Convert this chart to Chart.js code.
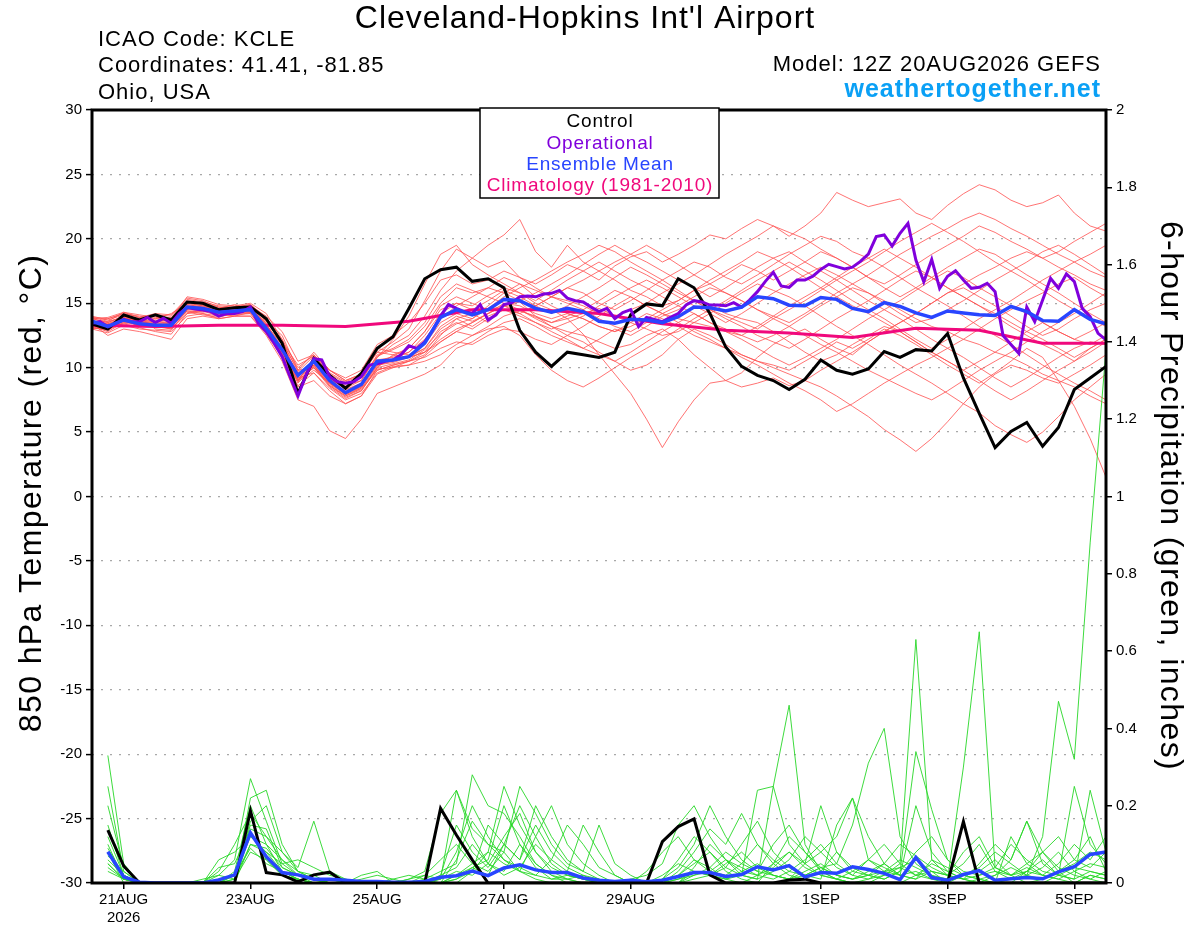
<!DOCTYPE html>
<html>
<head>
<meta charset="utf-8">
<script src="https://cdn.jsdelivr.net/npm/chart.js@4.4.1/dist/chart.umd.min.js"></script>
<style>
  html, body { margin: 0; padding: 0; background: #fff; }
  canvas { display: block; }
</style>
</head>
<body>
<canvas id="gefsChart" width="1200" height="927"></canvas>
<script>
// forecast hour ticks (0 = 12Z 20AUG2026)
const tickHours = [12, 60, 108, 156, 204, 276, 324, 372];
const tickLabels = [['21AUG', '2026'], '23AUG', '25AUG', '27AUG', '29AUG', '1SEP', '3SEP', '5SEP'];

// 850 hPa temperature, 6-hourly
const controlT = [
  13.4, 13.0, 14.1, 13.7, 14.1, 13.7, 15.1, 15.0, 14.5, 14.65,
  14.7, 13.8, 11.9, 8.0, 10.7, 9.4, 8.4, 9.55, 11.5, 12.4,
  14.6, 16.9, 17.6, 17.8, 16.7, 16.9, 16.2, 12.9, 11.2, 10.1,
  11.2, 11.0, 10.8, 11.2, 14.1, 14.95, 14.8, 16.9, 16.2, 14.2,
  11.6, 10.1, 9.4, 9.0, 8.3, 9.1, 10.6, 9.8, 9.5, 9.9,
  11.25, 10.8, 11.4, 11.3, 12.65, 9.2, 6.45, 3.8, 5.05, 5.75,
  3.9, 5.35, 8.3, 9.2, 10.1
];
const meanT = [
  13.6, 13.2, 13.7, 13.4, 13.3, 13.3, 14.7, 14.6, 14.3, 14.4,
  14.5, 13.05, 11.4, 9.4, 10.5, 9.0, 8.05, 8.7, 10.5, 10.6,
  10.85, 11.9, 13.9, 14.5, 14.1, 14.5, 15.3, 15.2, 14.6, 14.3,
  14.6, 14.35, 13.6, 13.45, 13.75, 13.7, 13.5, 13.95, 14.7, 14.65,
  14.4, 14.7, 15.5, 15.35, 14.85, 14.8, 15.45, 15.3, 14.6, 14.35,
  15.05, 14.75, 14.25, 13.9, 14.4, 14.25, 14.1, 14.05, 14.75, 14.35,
  13.65, 13.6, 14.5, 13.75, 13.4
];
// operational run, 3-hourly
const operT = [
  13.44, 13.57, 13.18, 13.44, 13.75, 13.57, 13.57, 13.9, 13.5, 13.83,
  13.44, 14.2, 14.66, 14.55, 14.48, 14.35, 14.0, 14.2, 14.2, 14.35,
  14.7, 13.44, 12.8, 11.9, 10.85, 9.3, 7.8, 9.4, 10.7, 10.6,
  9.3, 8.9, 8.8, 8.9, 9.3, 10.2, 10.3, 10.5, 10.6, 11.0,
  11.7, 11.5, 12.0, 12.9, 14.0, 14.9, 14.6, 14.35, 14.2, 14.9,
  13.7, 14.1, 14.9, 15.05, 15.5, 15.56, 15.5, 15.72, 15.77, 16.0,
  15.4, 15.2, 15.1, 14.7, 14.35, 14.6, 13.8, 14.27, 14.5, 13.2,
  13.9, 13.75, 13.57, 13.9, 14.2, 14.86, 15.2, 15.1, 14.86, 14.86,
  14.8, 15.05, 14.7, 15.25, 15.9, 16.7, 17.4, 16.34, 16.23, 16.8,
  16.8, 17.1, 17.63, 18.02, 17.84, 17.66, 17.8, 18.25, 18.82, 20.17,
  20.3, 19.44, 20.43, 21.2, 18.36, 16.67, 18.4, 16.16, 17.1, 17.53,
  16.8, 16.16, 16.24, 16.55, 15.9, 12.5, 11.8, 11.1, 14.7, 13.57,
  15.25, 16.93, 16.16, 17.27, 16.68, 14.6, 13.96, 12.66, 12.15
];
// climatology, daily
const climT = [13.3, 13.2, 13.3, 13.3, 13.2, 13.6, 14.5, 14.5, 14.2, 13.4, 12.9, 12.7, 12.35, 13.05, 12.9, 11.9, 11.9];

// ensemble members, 6-hourly
const membersT = [
  [13.2, 12.8, 13.5, 13.9, 13.0, 12.9, 14.5, 14.9, 14.2, 14.0,
   14.3, 13.5, 12.0, 10.2, 10.9, 9.8, 9.0, 9.5, 11.2, 12.0,
   13.0, 15.2, 17.5, 19.2, 18.5, 17.8, 18.3, 17.0, 16.5, 17.2,
   18.0, 17.5, 16.8, 17.9, 18.6, 19.0, 18.2, 18.8, 19.5, 20.3,
   20.0, 20.8, 21.5, 21.0, 20.2, 21.0, 22.0, 23.6, 23.0, 22.5,
   22.8, 23.1, 22.0, 21.5, 22.6, 23.5, 24.2, 23.8, 23.0, 22.5,
   22.8, 23.4, 22.0, 21.0, 20.6],
  [13.8, 13.5, 14.0, 13.6, 13.8, 14.2, 15.0, 14.8, 14.6, 14.9,
   14.6, 13.2, 11.0, 8.5, 9.0, 7.8, 7.2, 7.8, 9.5, 10.0,
   10.5, 11.0, 12.5, 13.8, 14.2, 13.5, 14.8, 15.1, 14.0, 13.2,
   12.5, 12.0, 11.2, 10.5, 9.8, 10.2, 11.0, 12.2, 13.0, 12.5,
   11.8, 11.0, 10.5, 10.2, 9.8, 10.5, 11.2, 12.0, 11.5, 12.2,
   13.0, 12.5, 11.8, 11.0, 10.2, 9.5, 8.8, 9.6, 10.5, 11.5,
   10.8, 9.0, 7.0, 4.5, 1.5],
  [13.0, 13.2, 13.4, 13.1, 12.8, 12.6, 14.2, 14.4, 14.0, 14.2,
   14.4, 13.6, 12.5, 9.8, 10.0, 8.5, 7.6, 8.2, 10.0, 11.0,
   11.5, 12.8, 14.5, 15.0, 14.8, 15.6, 16.2, 15.8, 15.0, 14.5,
   13.8, 12.6, 11.0, 9.5, 8.0, 6.0, 3.8, 5.8, 7.5, 8.8,
   9.0, 9.6, 10.8, 11.8, 12.5, 13.0, 12.2, 11.5, 11.0, 12.0,
   12.8, 13.5, 14.2, 15.0, 15.8, 16.2, 15.5, 14.8, 14.0, 13.2,
   12.5, 13.0, 13.8, 14.5, 15.0],
  [13.5, 13.8, 14.2, 13.9, 14.0, 13.6, 15.2, 15.0, 14.7, 14.5,
   14.8, 14.0, 12.8, 10.5, 11.0, 9.5, 8.8, 9.2, 10.8, 11.8,
   12.5, 14.0, 16.0, 17.5, 18.5, 19.5, 20.3, 21.5, 19.0, 17.8,
   19.5, 18.2, 17.5, 16.8, 16.0, 15.5, 14.8, 15.2, 16.0, 16.5,
   17.2, 18.0, 17.5, 16.8, 17.5, 18.2, 19.0, 18.5, 17.8, 17.0,
   16.5, 17.2, 18.0, 18.8, 19.5, 20.2, 21.0, 20.5, 19.8, 19.2,
   18.5, 19.0, 19.8, 20.5, 21.2],
  [13.4, 12.5, 13.0, 12.8, 12.5, 12.2, 13.8, 14.0, 13.8, 14.0,
   14.0, 12.5, 10.5, 7.5, 7.0, 5.1, 4.5, 6.0, 8.0, 8.5,
   9.0, 9.5, 10.2, 11.5, 12.0, 12.8, 13.5, 13.8, 13.2, 12.5,
   12.0, 11.5, 12.2, 13.0, 12.5, 13.2, 14.0, 14.5, 15.2, 14.8,
   14.2, 13.8, 13.5, 12.8, 12.0, 11.2, 10.5, 11.0, 11.8, 12.5,
   13.2, 12.8, 12.0, 11.2, 10.5, 9.8, 10.5, 11.2, 12.0, 12.8,
   13.5, 12.8, 12.2, 11.8, 12.5],
  [13.9, 13.6, 14.3, 14.1, 13.9, 13.8, 15.5, 15.3, 14.9, 14.8,
   15.0, 14.2, 12.2, 9.0, 10.8, 9.2, 8.0, 8.6, 10.2, 10.5,
   10.8, 11.5, 13.0, 13.8, 13.2, 14.0, 14.5, 14.2, 14.8, 15.5,
   16.2, 15.8, 15.0, 14.5, 15.2, 16.0, 16.8, 17.5, 18.2, 17.8,
   17.0, 16.5, 17.2, 18.0, 18.8, 19.5, 20.2, 19.8, 19.0, 18.5,
   17.8, 17.0, 16.2, 15.5, 14.8, 14.0, 13.2, 12.5, 11.8, 11.0,
   10.2, 9.5, 8.8, 8.2, 7.5],
  [13.1, 12.9, 13.6, 13.3, 13.2, 13.0, 14.3, 14.1, 13.9, 14.3,
   14.2, 12.8, 11.0, 8.8, 10.2, 8.6, 7.8, 8.3, 9.8, 10.2,
   10.5, 10.8, 11.5, 12.0, 11.8, 12.5, 13.0, 12.8, 12.2, 11.8,
   12.5, 13.2, 14.0, 14.8, 15.5, 14.8, 14.2, 13.5, 12.8, 12.2,
   11.5, 10.8, 10.2, 9.5, 8.8, 8.2, 7.5, 6.6, 7.2, 8.0,
   8.8, 9.5, 10.2, 10.8, 11.5, 12.2, 13.0, 13.8, 14.5, 15.2,
   15.8, 16.5, 17.0, 16.2, 15.5],
  [13.7, 13.3, 13.9, 13.5, 13.6, 13.7, 14.9, 14.7, 14.4, 14.6,
   14.7, 13.4, 11.6, 9.6, 10.4, 9.2, 8.3, 8.8, 10.6, 10.8,
   11.2, 12.5, 14.2, 15.0, 14.5, 15.2, 16.0, 15.5, 14.8, 14.2,
   14.8, 15.5, 16.2, 17.0, 17.8, 17.2, 16.5, 15.8, 15.2, 14.5,
   13.8, 13.2, 12.5, 12.0, 11.5, 12.2, 13.0, 13.8, 14.5, 15.2,
   16.0, 16.8, 17.5, 17.0, 16.2, 15.5, 14.8, 14.0, 13.2, 12.5,
   11.8, 11.2, 10.5, 11.5, 12.2],
  [13.3, 13.0, 13.8, 13.6, 13.4, 13.1, 14.6, 14.5, 14.1, 14.4,
   14.5, 13.0, 11.2, 8.9, 9.8, 8.8, 7.9, 8.5, 10.2, 10.4,
   10.8, 11.2, 12.2, 13.0, 13.5, 14.2, 15.0, 14.8, 14.2, 13.8,
   14.2, 13.8, 13.2, 12.8, 13.5, 14.2, 13.8, 13.2, 12.5, 12.0,
   11.5, 11.0, 10.5, 10.0, 9.5, 9.0, 8.5, 7.8, 7.0, 6.2,
   5.2, 4.4, 3.5, 4.5, 5.8, 7.2, 8.5, 9.5, 10.2, 9.8,
   9.2, 8.8, 9.5, 10.2, 11.0],
  [13.6, 13.4, 13.8, 13.2, 13.5, 13.4, 14.8, 14.5, 14.4, 14.2,
   14.3, 13.0, 11.0, 9.0, 10.6, 9.4, 8.6, 9.0, 11.0, 11.5,
   12.2, 13.5, 15.5, 16.5, 16.0, 15.5, 15.0, 14.5, 13.8, 13.2,
   12.8, 12.5, 12.0, 11.5, 11.8, 12.5, 13.0, 12.2, 11.0, 10.0,
   9.0, 8.5, 8.8, 9.2, 8.6, 9.0, 9.8, 10.5, 11.2, 12.0,
   12.8, 13.5, 14.2, 15.0, 15.8, 16.5, 17.2, 17.8, 18.5, 19.0,
   18.5, 17.8, 17.2, 16.5, 16.0],
  [14.0, 13.7, 14.1, 13.8, 14.1, 14.0, 15.3, 15.1, 14.8, 14.7,
   14.9, 13.9, 12.0, 9.8, 11.2, 9.8, 9.0, 9.5, 11.5, 11.2,
   11.0, 11.8, 13.5, 14.2, 13.8, 14.8, 15.8, 16.5, 16.0, 15.5,
   15.2, 14.8, 14.2, 14.0, 14.5, 15.0, 15.8, 16.5, 17.2, 18.0,
   18.8, 19.5, 20.2, 21.0, 20.5, 20.0, 19.2, 18.5, 17.8, 17.0,
   16.2, 15.5, 16.2, 17.0, 17.8, 18.5, 19.2, 18.8, 18.0, 17.2,
   16.5, 15.8, 15.0, 14.2, 13.5],
  [13.4, 13.1, 13.6, 13.5, 13.1, 13.2, 14.4, 14.3, 14.5, 14.6,
   14.4, 12.9, 11.2, 9.2, 9.6, 8.4, 7.5, 8.0, 9.6, 10.1,
   10.2, 10.9, 12.0, 12.8, 12.5, 13.2, 14.0, 14.4, 14.0, 13.5,
   13.8, 14.2, 14.6, 14.0, 13.5, 13.0, 12.5, 12.8, 13.5, 14.2,
   15.0, 15.8, 16.5, 16.0, 15.5, 14.8, 14.0, 13.2, 12.5, 11.8,
   11.0, 10.2, 9.5, 8.8, 8.0, 7.2, 6.5, 5.5, 4.8, 4.2,
   5.0, 6.2, 7.5, 8.5, 9.5],
  [13.5, 13.3, 13.7, 13.2, 13.6, 13.5, 14.6, 14.8, 14.2, 14.3,
   14.6, 13.3, 11.8, 9.5, 10.2, 8.9, 8.0, 8.6, 10.4, 10.9,
   11.5, 12.8, 14.8, 15.5, 15.0, 14.5, 14.8, 15.2, 15.8, 16.5,
   17.2, 18.0, 18.8, 19.5, 18.8, 18.2, 17.5, 16.8, 16.2, 15.5,
   16.2, 17.0, 17.8, 18.5, 19.0, 18.2, 17.5, 16.8, 16.0, 15.2,
   14.5, 13.8, 13.0, 12.2, 11.5, 10.8, 10.0, 9.2, 8.5, 9.2,
   10.0, 10.8, 11.5, 12.0, 11.8],
  [13.2, 13.0, 13.5, 13.4, 13.2, 13.3, 14.4, 14.2, 14.0, 14.1,
   14.2, 12.6, 10.8, 8.6, 9.6, 8.2, 7.2, 7.8, 9.8, 10.2,
   10.5, 11.2, 12.8, 13.5, 13.0, 13.8, 14.5, 14.0, 13.5, 13.0,
   13.5, 14.0, 14.8, 15.5, 16.2, 16.8, 16.2, 15.5, 14.8, 14.2,
   13.5, 14.2, 15.0, 15.8, 16.5, 17.2, 17.8, 17.2, 16.5, 15.8,
   15.0, 14.2, 13.5, 13.8, 14.5, 15.2, 16.0, 16.8, 17.5, 18.2,
   19.0, 19.5, 18.8, 18.0, 17.2],
  [13.8, 13.5, 14.0, 13.7, 13.6, 13.4, 14.8, 14.6, 14.5, 14.6,
   14.8, 13.6, 12.2, 10.0, 11.0, 9.8, 9.2, 9.8, 11.8, 12.5,
   13.5, 15.0, 16.8, 17.2, 16.5, 16.8, 17.5, 17.0, 16.2, 15.5,
   15.0, 14.5, 13.8, 13.2, 12.8, 13.5, 14.2, 14.8, 15.5, 16.2,
   15.8, 15.2, 14.5, 14.0, 13.5, 14.2, 15.0, 15.8, 16.5, 17.2,
   18.0, 18.8, 19.5, 20.2, 20.8, 21.5, 22.0, 21.5, 20.8, 20.2,
   19.5, 18.8, 18.2, 17.5, 17.0],
  [13.6, 13.4, 13.9, 13.6, 13.4, 13.5, 14.9, 14.7, 14.3, 14.5,
   14.6, 13.3, 11.5, 9.3, 10.5, 9.0, 8.2, 8.8, 10.4, 10.6,
   10.9, 11.5, 13.2, 14.0, 13.6, 14.2, 14.8, 14.5, 13.9, 13.5,
   14.0, 14.5, 15.2, 16.0, 15.5, 14.8, 14.2, 13.8, 13.5, 13.2,
   12.8, 12.5, 12.0, 12.5, 13.2, 14.0, 14.8, 15.5, 16.2, 15.8,
   15.2, 14.5, 13.8, 13.2, 12.8, 12.2, 11.8, 11.2, 10.8, 10.2,
   9.5, 9.0, 8.5, 7.8, 7.2],
  [13.0, 12.7, 13.3, 13.0, 12.9, 12.8, 14.0, 14.2, 13.8, 14.0,
   14.0, 12.8, 11.0, 9.0, 10.0, 8.8, 8.0, 8.5, 10.8, 12.2,
   14.0, 16.5, 18.8, 19.5, 18.0, 17.2, 16.5, 15.8, 15.2, 16.0,
   16.8, 17.5, 18.2, 17.5, 16.8, 16.2, 15.5, 14.8, 14.2, 13.5,
   13.0, 12.5, 13.2, 14.0, 14.8, 15.5, 16.2, 17.0, 17.8, 18.5,
   19.2, 18.5, 17.8, 17.0, 16.2, 15.5, 14.8, 14.2, 13.5, 12.8,
   12.2, 11.5, 10.8, 11.5, 12.2],
  [13.9, 13.8, 14.2, 14.0, 13.8, 13.9, 15.1, 14.9, 14.6, 14.7,
   14.9, 13.8, 11.8, 9.4, 10.2, 8.8, 7.9, 8.4, 9.9, 10.0,
   10.2, 10.5, 11.0, 11.8, 12.5, 13.0, 13.2, 12.5, 11.0, 9.8,
   9.0, 8.5, 9.2, 10.0, 10.8, 11.5, 12.2, 13.0, 13.8, 14.5,
   15.2, 16.0, 16.8, 17.5, 18.2, 17.5, 16.8, 16.0, 15.2, 14.5,
   13.8, 13.0, 12.2, 11.5, 12.2, 13.0, 13.8, 14.5, 15.2, 16.0,
   16.8, 17.5, 18.2, 18.8, 19.5],
  [13.3, 13.6, 13.9, 13.5, 13.7, 13.6, 15.0, 14.8, 14.4, 14.5,
   14.6, 13.4, 11.3, 9.1, 10.3, 9.1, 8.4, 9.0, 10.9, 11.4,
   12.0, 13.2, 15.0, 16.2, 15.8, 16.2, 17.0, 16.5, 15.5, 14.8,
   14.2, 13.8, 13.2, 12.8, 13.2, 13.8, 14.5, 15.2, 16.0, 16.8,
   17.5, 18.2, 19.0, 18.5, 17.8, 17.0, 16.2, 15.5, 14.8, 14.2,
   13.5, 12.8, 12.0, 11.2, 10.5, 9.8, 9.0, 8.2, 7.5, 8.2,
   9.0, 9.8, 10.5, 11.2, 12.0],
  [13.5, 13.2, 13.6, 13.3, 13.2, 13.1, 14.5, 14.4, 14.2, 14.3,
   14.4, 12.9, 11.1, 9.0, 10.0, 8.6, 7.7, 8.2, 10.0, 10.3,
   10.6, 11.4, 12.6, 13.4, 13.8, 14.6, 15.5, 16.2, 16.8, 17.5,
   18.2, 18.8, 19.5, 19.0, 18.2, 17.5, 16.8, 16.0, 15.2, 14.5,
   14.0, 13.5, 13.0, 13.8, 14.5, 15.2, 16.0, 16.8, 17.5, 18.2,
   19.0, 19.8, 20.5, 21.2, 20.5, 19.8, 19.0, 18.2, 17.5, 16.8,
   16.0, 15.2, 14.5, 13.8, 13.2],
  [13.8, 13.9, 14.3, 13.9, 14.2, 14.1, 15.4, 15.2, 14.7, 14.6,
   14.8, 13.7, 12.0, 9.7, 10.9, 9.6, 8.9, 9.4, 11.2, 11.0,
   10.8, 11.2, 12.0, 12.8, 13.5, 14.2, 14.8, 14.2, 13.5, 12.8,
   12.2, 11.5, 11.0, 10.5, 11.2, 12.0, 12.8, 13.5, 14.2, 13.5,
   12.8, 12.2, 11.5, 10.8, 10.2, 10.8, 11.5, 12.2, 13.0, 13.8,
   14.5, 15.2, 16.0, 16.8, 17.5, 17.0, 16.2, 15.5, 14.8, 14.2,
   13.5, 12.8, 12.2, 12.8, 13.5],
  [13.1, 13.0, 13.4, 13.6, 13.3, 13.0, 14.2, 14.5, 14.3, 14.4,
   14.3, 13.1, 11.4, 9.2, 10.1, 8.7, 7.8, 8.4, 10.1, 10.7,
   11.2, 12.2, 13.8, 14.8, 15.5, 16.2, 15.8, 15.2, 14.8, 15.5,
   16.2, 16.8, 17.5, 18.2, 18.8, 19.5, 18.8, 18.0, 17.2, 16.5,
   15.8, 15.2, 14.5, 13.8, 13.2, 12.5, 11.8, 11.2, 10.5, 9.8,
   9.2, 8.6, 8.0, 7.5, 8.2, 9.0, 9.8, 10.5, 11.2, 12.0,
   12.8, 13.5, 14.2, 15.0, 15.8]
];

// 6-hour precipitation (inches), 6-hourly, no value at hour 0
const controlP = [
  null, 0.137, 0.044, 0, 0, 0, 0, 0, 0, 0,
  0.187, 0.027, 0.021, 0.003, 0.021, 0.028, 0, 0, 0, 0,
  0, 0, 0.193, 0.124, 0.06, 0, 0, 0, 0, 0,
  0, 0, 0, 0, 0, 0, 0.107, 0.146, 0.166, 0.021,
  0, 0, 0, 0, 0.008, 0.01, 0, 0, 0, 0,
  0, 0, 0, 0, 0, 0.159, 0, 0, 0, 0,
  0, 0, 0, 0, 0
];
const meanP = [
  null, 0.081, 0.016, 0.002, 0, 0, 0, 0, 0.008, 0.021,
  0.13, 0.068, 0.027, 0.021, 0.01, 0.01, 0.007, 0.004, 0.004, 0.002,
  0.002, 0.004, 0.015, 0.019, 0.031, 0.019, 0.039, 0.047, 0.034, 0.027,
  0.027, 0.013, 0.007, 0.004, 0.007, 0.003, 0.007, 0.017, 0.027, 0.027,
  0.017, 0.022, 0.042, 0.034, 0.045, 0.016, 0.027, 0.025, 0.042, 0.035,
  0.025, 0.009, 0.066, 0.014, 0.007, 0.022, 0.032, 0.007, 0.011, 0.014,
  0.011, 0.029, 0.042, 0.074, 0.08
];
const membersP = [
  [null, .05, .01, 0, 0, 0, 0, 0, 0, .02,
   .12, .08, .03, .01, 0, 0, 0, 0, 0, 0,
   0, 0, .01, .24, .14, .10, .08, .03, .01, 0,
   0, 0, 0, 0, 0, 0, 0, .02, .05, .08,
   .03, .01, 0, .05, .12, .08, .03, .01, 0, 0,
   0, 0, .02, .03, 0, 0, 0, .02, .04, .02,
   .12, .47, .32, .88, 1.38],
  [null, .33, .05, 0, 0, 0, 0, 0, 0, 0,
   .22, .24, .10, .03, .02, 0, 0, 0, 0, 0,
   0, .01, .03, .05, .28, .20, .18, .12, .05, .02,
   0, 0, 0, 0, 0, 0, 0, 0, .04, .10,
   .06, .02, .01, .25, .46, .10, .03, .01, 0, 0,
   .02, .05, .63, .06, .02, .01, 0, 0, 0, .03,
   .08, .03, 0, .02, .01],
  [null, .25, .03, 0, 0, 0, 0, 0, .02, .06,
   .27, .16, .05, .02, .01, 0, 0, .01, .02, .01,
   0, 0, 0, .02, .04, .06, .20, .10, .04, .01,
   .02, .01, 0, 0, .01, .02, .05, .15, .20, .12,
   .06, .03, .02, .04, .08, .05, .02, .01, .03, .06,
   .04, .02, .03, .01, .01, .30, .65, .04, .02, 0,
   0, .02, .25, .10, .05],
  [null, .15, .02, 0, 0, 0, 0, 0, .03, .10,
   .18, .12, .08, .04, .16, .03, .01, 0, 0, 0,
   0, .02, .06, .10, .05, .08, .25, .15, .08, .03,
   .01, 0, 0, 0, 0, .03, .08, .12, .06, .03,
   .02, .05, .10, .06, .03, .02, .04, .05, .15, .31,
   .40, .12, .05, .02, 0, 0, .01, .02, .06, .16,
   .05, .02, .01, .24, .08],
  [null, .10, .01, 0, 0, 0, 0, 0, 0, .03,
   .20, .10, .06, .03, .01, 0, 0, 0, 0, 0,
   .01, .03, .18, .24, .12, .05, .02, .04, .10, .06,
   .03, .15, .08, .02, 0, 0, 0, .02, .06, .04,
   .01, .02, .24, .25, .10, .05, .20, .08, .03, .02,
   .01, .03, .34, .19, .06, .02, .01, 0, 0, 0,
   .01, .03, .06, .12, .03],
  [null, .08, 0, 0, 0, 0, 0, 0, .01, .02,
   .15, .14, .04, .02, .01, 0, 0, 0, 0, 0,
   0, 0, 0, 0, .03, .15, .10, .20, .12, .05,
   .02, .01, 0, 0, 0, 0, 0, 0, .03, .02,
   .04, .10, .16, .08, .04, .02, .01, .15, .22, .12,
   .05, .02, .20, .08, .03, .01, 0, 0, .12, .05,
   .02, .01, 0, .02, .01],
  [null, .06, .02, 0, 0, 0, 0, .01, .02, .01,
   .10, .08, .05, .06, .04, .02, .01, 0, 0, .01,
   .02, .01, 0, .02, .05, .03, .08, .25, .18, .10,
   .05, .03, .01, 0, 0, 0, .01, .04, .10, .20,
   .12, .06, .03, .02, .01, .03, .05, .02, .01, .02,
   .05, .10, .07, .04, .02, .05, .10, .03, .01, .02,
   .04, .08, .03, .01, 0],
  [null, .04, .01, 0, 0, 0, 0, 0, .06, .08,
   .12, .10, .03, .01, 0, 0, 0, 0, 0, 0,
   0, 0, .02, .15, .08, .04, .10, .06, .20, .12,
   .06, .03, .15, .05, .02, 0, 0, .01, .02, .03,
   .06, .04, .02, .01, .03, .06, .10, .05, .02, .01,
   .02, .04, .06, .03, .02, .08, .12, .04, .02, .05,
   .08, .12, .06, .04, .08],
  [null, .20, .04, 0, 0, 0, 0, 0, 0, .01,
   .08, .06, .02, .01, 0, 0, 0, 0, 0, 0,
   .01, .02, .01, .08, .20, .12, .06, .03, .02, .01,
   .01, 0, 0, 0, 0, 0, .02, .05, .03, .02,
   .01, 0, .02, .05, .08, .04, .02, .01, 0, .01,
   .03, .06, .04, .02, .01, .02, .03, .06, .02, .03,
   .02, .05, .10, .06, .12],
  [null, .12, .02, 0, 0, 0, 0, 0, 0, 0,
   .13, .06, .02, .01, 0, .01, 0, 0, 0, 0,
   0, 0, 0, .01, .04, .02, .10, .06, .15, .08,
   .04, .02, .01, 0, 0, 0, 0, 0, .01, .02,
   .05, .08, .04, .02, .01, .05, .08, .12, .22, .06,
   .03, .02, .01, .06, .04, .02, .01, 0, .01, .03,
   .06, .02, .01, .03, .02],
  [null, .09, .02, 0, 0, 0, 0, 0, 0, .01,
   .16, .20, .08, .03, .01, 0, 0, 0, 0, 0,
   0, 0, .02, .04, .10, .05, .12, .18, .08, .04,
   .02, .01, 0, 0, 0, 0, .01, .06, .12, .08,
   .04, .02, .01, .03, .06, .12, .08, .04, .02, .06,
   .10, .05, .02, .01, 0, .02, .04, .08, .05, .02,
   .01, .03, .05, .08, .06],
  [null, .07, .03, 0, 0, 0, 0, 0, .04, .05,
   .14, .12, .06, .02, 0, 0, 0, .02, .03, 0,
   0, 0, 0, .01, .03, .08, .05, .03, .12, .20,
   .10, .05, .02, 0, 0, 0, 0, .03, .08, .14,
   .10, .18, .10, .05, .02, .01, .03, .08, .04, .02,
   .01, .03, .08, .12, .06, .03, .02, .04, .10, .06,
   .03, .02, .04, .03, .02],
  [null, .05, .01, 0, 0, 0, 0, 0, 0, 0,
   .10, .09, .04, .02, .01, .01, 0, 0, 0, 0,
   0, 0, 0, .06, .16, .10, .06, .04, .02, .06,
   .15, .10, .04, .02, 0, 0, 0, 0, .02, .04,
   .08, .05, .03, .10, .15, .08, .04, .02, .01, .03,
   .05, .02, .01, .03, .02, .01, .05, .10, .06, .16,
   .08, .04, .02, .01, .03],
  [null, .03, .01, 0, 0, 0, 0, 0, 0, .02,
   .09, .05, .03, .01, 0, 0, 0, 0, 0, 0,
   0, 0, .01, .03, .02, .05, .03, .10, .05, .02,
   .01, .02, 0, 0, 0, 0, 0, .01, .03, .02,
   .01, .03, .05, .02, .01, .02, .04, .02, .01, .02,
   .03, .04, .02, .05, .03, .01, .02, .03, .02, .04,
   .02, .01, .03, .05, .04]
];

const font = "'Liberation Sans', Arial, sans-serif";

function pts(vals, step) {
  return vals.map((v, i) => ({ x: i * step, y: v }));
}

function line(label, vals, step, axis, color, width, order) {
  return {
    label: label,
    data: pts(vals, step),
    yAxisID: axis,
    borderColor: color,
    borderWidth: width,
    pointRadius: 0,
    tension: 0,
    fill: false,
    order: order
  };
}

const datasets = [];
membersT.forEach((m, k) => datasets.push(line('memT' + k, m, 6, 'yT', 'rgba(255,80,80,0.8)', 1, 6)));
membersP.forEach((m, k) => datasets.push(line('memP' + k, m, 6, 'yP', 'rgba(40,215,40,0.9)', 1, 5)));
datasets.push(line('Climatology', climT, 24, 'yT', '#f0087c', 3, 3));
datasets.push(line('Control', controlT, 6, 'yT', '#000000', 3, 2));
datasets.push(line('Operational', operT, 3, 'yT', '#8000dc', 3, 1));
datasets.push(line('Ensemble Mean', meanT, 6, 'yT', '#2845ff', 3.5, 0));
datasets.push(line('Control precip', controlP, 6, 'yP', '#000000', 3, 2));
datasets.push(line('Mean precip', meanP, 6, 'yP', '#2845ff', 3.5, 0));

function spaced(c, px) {
  if ('letterSpacing' in c) c.letterSpacing = px + 'px';
}

// titles, frame and legend box
const decor = {
  id: 'decor',
  beforeDraw(chart) {
    const c = chart.ctx;
    c.save();
    c.fillStyle = '#fff';
    c.fillRect(0, 0, chart.width, chart.height);
    c.restore();
  },
  afterDraw(chart) {
    const c = chart.ctx;
    const a = chart.chartArea;
    c.save();
    c.strokeStyle = '#000';
    c.lineWidth = 3;
    c.strokeRect(a.left, a.top, a.right - a.left, a.bottom - a.top);

    c.fillStyle = '#000';
    c.textBaseline = 'middle';
    c.textAlign = 'center';
    spaced(c, 1);
    c.font = '32px ' + font;
    c.fillText("Cleveland-Hopkins Int'l Airport", 585, 19);

    c.textAlign = 'left';
    c.font = '22px ' + font;
    c.fillText('ICAO Code: KCLE', 98, 40);
    c.fillText('Coordinates: 41.41, -81.85', 98, 66);
    c.fillText('Ohio, USA', 98, 93);

    c.textAlign = 'right';
    c.fillText('Model: 12Z 20AUG2026 GEFS', 1101, 65);
    c.fillStyle = '#0aa0f5';
    c.font = 'bold 25px ' + font;
    c.fillText('weathertogether.net', 1101, 90);

    // axis titles
    c.fillStyle = '#000';
    spaced(c, 1.4);
    c.font = '32px ' + font;
    c.textAlign = 'center';
    c.save();
    c.translate(32, 493);
    c.rotate(-Math.PI / 2);
    c.fillText('850 hPa Temperature (red, \u00B0C)', 0, 0);
    c.restore();
    c.save();
    c.translate(1170, 496);
    c.rotate(Math.PI / 2);
    c.fillText('6-hour Precipitation (green, inches)', 0, 0);
    c.restore();

    // legend
    c.fillStyle = '#fff';
    c.fillRect(480, 108, 239, 90);
    c.strokeStyle = '#000';
    c.lineWidth = 1.5;
    c.strokeRect(480, 108, 239, 90);
    spaced(c, 0.8);
    c.font = '19px ' + font;
    const items = [['Control', '#000000'], ['Operational', '#8000dc'], ['Ensemble Mean', '#2845ff'], ['Climatology (1981-2010)', '#f0087c']];
    items.forEach((it, k) => {
      c.fillStyle = it[1];
      c.fillText(it[0], 600, 122 + k * 21.3);
    });
    spaced(c, 0);
    c.restore();
  }
};

const tickFont = { family: font, size: 15 };

new Chart(document.getElementById('gefsChart'), {
  type: 'line',
  data: { datasets: datasets },
  plugins: [decor],
  options: {
    responsive: false,
    animation: false,
    devicePixelRatio: 1,
    layout: { padding: { top: 110, left: 0, right: 0, bottom: 0 } },
    plugins: { legend: { display: false }, tooltip: { enabled: false } },
    scales: {
      x: {
        type: 'linear',
        min: 0,
        max: 384,
        afterBuildTicks: (s) => { s.ticks = tickHours.map(v => ({ value: v })); },
        afterFit: (s) => { s.height = 44; },
        ticks: {
          autoSkip: false,
          maxRotation: 0,
          color: '#000',
          font: tickFont,
          padding: 2,
          callback: (v, i) => tickLabels[i]
        },
        grid: { drawOnChartArea: false, tickLength: 6, color: '#000', lineWidth: 1.5 },
        border: { display: false }
      },
      yT: {
        position: 'left',
        min: -30,
        max: 30,
        afterFit: (s) => { s.width = 92; },
        ticks: { stepSize: 5, color: '#000', font: tickFont, padding: 4 },
        grid: { color: '#a8a8a8', lineWidth: 1.2, tickLength: 6, tickColor: '#000', tickWidth: 1.5 },
        border: { display: false, dash: [2, 7] }
      },
      yP: {
        position: 'right',
        min: 0,
        max: 2,
        afterFit: (s) => { s.width = 94; },
        ticks: { stepSize: 0.2, color: '#000', font: tickFont, padding: 4, callback: (v) => +v.toFixed(1) },
        grid: { drawOnChartArea: false, tickLength: 6, color: '#000', lineWidth: 1.5 },
        border: { display: false }
      }
    }
  }
});
</script>
</body>
</html>
